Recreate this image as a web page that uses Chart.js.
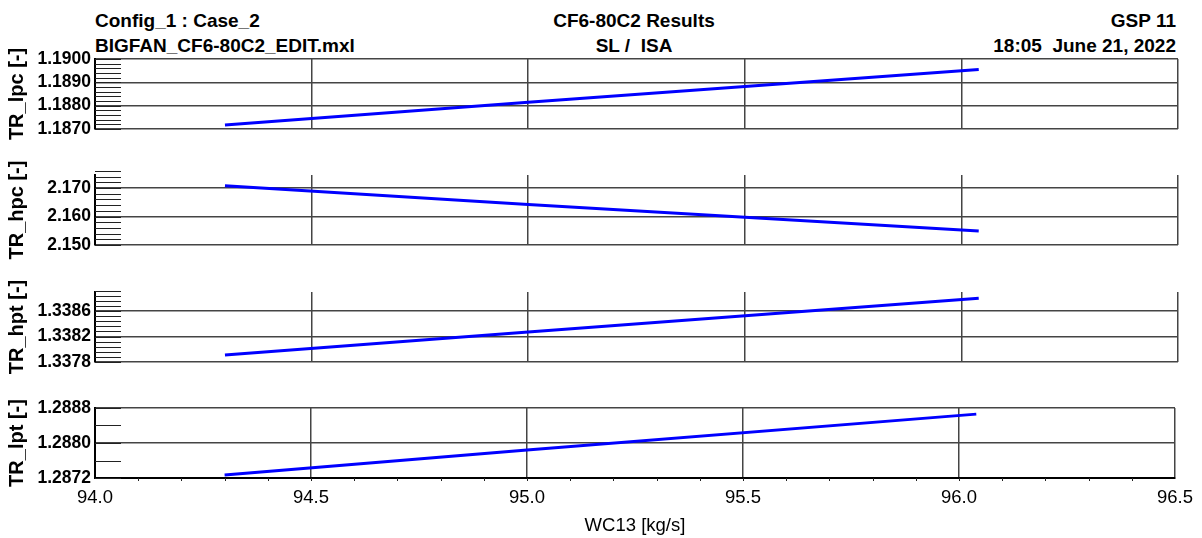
<!DOCTYPE html>
<html>
<head>
<meta charset="utf-8">
<script src="https://cdn.jsdelivr.net/npm/chart.js@4.4.0/dist/chart.umd.min.js"></script>
<style>
  body { margin: 0; background: #fff; }
  #wrap { position: relative; width: 1202px; height: 538px; overflow: hidden; font-family: 'Liberation Sans', Arial, sans-serif; }
  canvas { position: absolute; left: 0; top: 0; }
  .hd { position: absolute; font-weight: bold; font-size: 19px; line-height: 19px; color: #000; white-space: pre; }
</style>
</head>
<body>
<div id="wrap">
  <div class="hd" style="left:95px;top:11px">Config_1 : Case_2</div>
  <div class="hd" style="left:95px;top:36px">BIGFAN_CF6-80C2_EDIT.mxl</div>
  <div class="hd" style="left:434px;width:400px;text-align:center;top:11px">CF6-80C2 Results</div>
  <div class="hd" style="left:434px;width:400px;text-align:center;top:36px">SL /  ISA</div>
  <div class="hd" style="right:26px;text-align:right;top:11px">GSP 11</div>
  <div class="hd" style="right:26px;text-align:right;top:36px">18:05  June 21, 2022</div>
  <canvas id="c1" width="1202" height="538"></canvas>
  <canvas id="c2" width="1202" height="538"></canvas>
  <canvas id="c3" width="1202" height="538"></canvas>
  <canvas id="c4" width="1202" height="538"></canvas>
</div>
<script>
// values
const wc13 = [94.30, 95.00, 96.04];
const trLpc = [1.18717, 1.18815, 1.18955];
const trHpc = [2.1708, 2.1642, 2.1549];
const trHpt = [1.33791, 1.33827, 1.33880];
const trLpt = [1.28727, 1.28784, 1.28866];

const xTicks = [94.0, 94.5, 95.0, 95.5, 96.0, 96.5];
const lpcTicks = [1.1870, 1.1880, 1.1890, 1.1900];
const hpcTicks = [2.150, 2.160, 2.170];
const hptTicks = [1.3378, 1.3382, 1.3386];
const lptTicks = [1.2872, 1.2880, 1.2888];

const gridColor = '#444';
const font = "'Liberation Sans', Arial, sans-serif";

// short inward ticks on the left axis (and bottom axis of the last panel)
const minorTickPlugin = {
  id: 'minorTicks',
  beforeDatasetsDraw(chart, args, opts) {
    const ys = chart.scales.y, xs = chart.scales.x, area = chart.chartArea, ctx = chart.ctx;
    ctx.save();
    ctx.strokeStyle = '#222';
    ctx.lineWidth = 1;
    ctx.beginPath();
    for (let k = 0; k < 100; k++) {
      const v = ys.min + k * opts.step;
      const py = Math.round(ys.getPixelForValue(v)) + 0.5;
      ctx.moveTo(area.left, py);
      ctx.lineTo(area.left + 26, py);
      if (v >= ys.max - opts.step * 1e-3) break;
    }
    if (opts.xStep) {
      for (let k = 1; xs.min + k * opts.xStep < xs.max; k++) {
        const px = Math.round(xs.getPixelForValue(xs.min + k * opts.xStep)) + 0.5;
        ctx.moveTo(px, area.bottom);
        ctx.lineTo(px, area.bottom + 3);
      }
    }
    ctx.stroke();
    ctx.restore();
  }
};

const panels = [
  { id: 'c1', label: 'TR_lpc [-]', data: trLpc, ticks: lpcTicks, min: 1.1870, max: 1.1900, digits: 4, minor: 0.0002, top: 59, bottom: 129 },
  { id: 'c2', label: 'TR_hpc [-]', data: trHpc, ticks: hpcTicks, min: 2.150, max: 2.1746, digits: 3, minor: 0.002, top: 175, bottom: 245 },
  { id: 'c3', label: 'TR_hpt [-]', data: trHpt, ticks: hptTicks, min: 1.3378, max: 1.3389, digits: 4, minor: 0.00008, top: 292, bottom: 362 },
  { id: 'c4', label: 'TR_lpt [-]', data: trLpt, ticks: lptTicks, min: 1.2872, max: 1.2888, digits: 4, minor: 0.0004, top: 408, bottom: 478 }
];

function makeChart(p, last) {
  return new Chart(document.getElementById(p.id), {
    type: 'line',
    data: {
      datasets: [{
        data: wc13.map((x, i) => ({ x: x, y: p.data[i] })),
        borderColor: '#0000ff',
        borderWidth: 3,
        pointRadius: 0,
        tension: 0,
        borderCapStyle: 'butt'
      }]
    },
    options: {
      responsive: false,
      animation: false,
      devicePixelRatio: 1,
      layout: { padding: { top: p.top, bottom: last ? 0 : 538 - p.bottom, left: 0, right: 24 } },
      plugins: {
        legend: { display: false },
        tooltip: { enabled: false },
        minorTicks: { step: p.minor, xStep: last ? 0.1 : 0 }
      },
      scales: {
        x: {
          type: 'linear',
          min: 94, max: 96.5,
          afterBuildTicks: s => { s.ticks = xTicks.map(v => ({ value: v })); },
          afterFit: s => { s.height = last ? 538 - p.bottom : 0; },
          grid: { color: gridColor, lineWidth: 1.5, drawTicks: false },
          border: { display: last, color: '#000', width: 2 },
          ticks: { display: last, padding: 9, color: '#000', autoSkip: false, maxRotation: 0,
                   font: { family: font, size: 18.5 }, callback: v => v.toFixed(1) },
          title: { display: last, text: 'WC13 [kg/s]', color: '#000',
                   font: { family: font, size: 18.5 }, padding: { top: 0, bottom: 1 } }
        },
        y: {
          min: p.min, max: p.max,
          afterBuildTicks: s => { s.ticks = p.ticks.map(v => ({ value: v })); },
          afterFit: s => { s.width = 95; },
          grid: { color: gridColor, lineWidth: 1.5, drawTicks: false },
          border: { color: '#000', width: 2 },
          ticks: { padding: 4, color: '#000', autoSkip: false,
                   font: { family: font, size: 17.5, weight: 'bold' },
                   callback: v => v.toFixed(p.digits) },
          title: { display: true, text: p.label, color: '#000',
                   font: { family: font, size: 20, weight: 'bold' }, padding: { top: 5, bottom: 0 } }
        }
      }
    },
    plugins: [minorTickPlugin]
  });
}

panels.forEach((p, i) => makeChart(p, i === panels.length - 1));
</script>
</body>
</html>
